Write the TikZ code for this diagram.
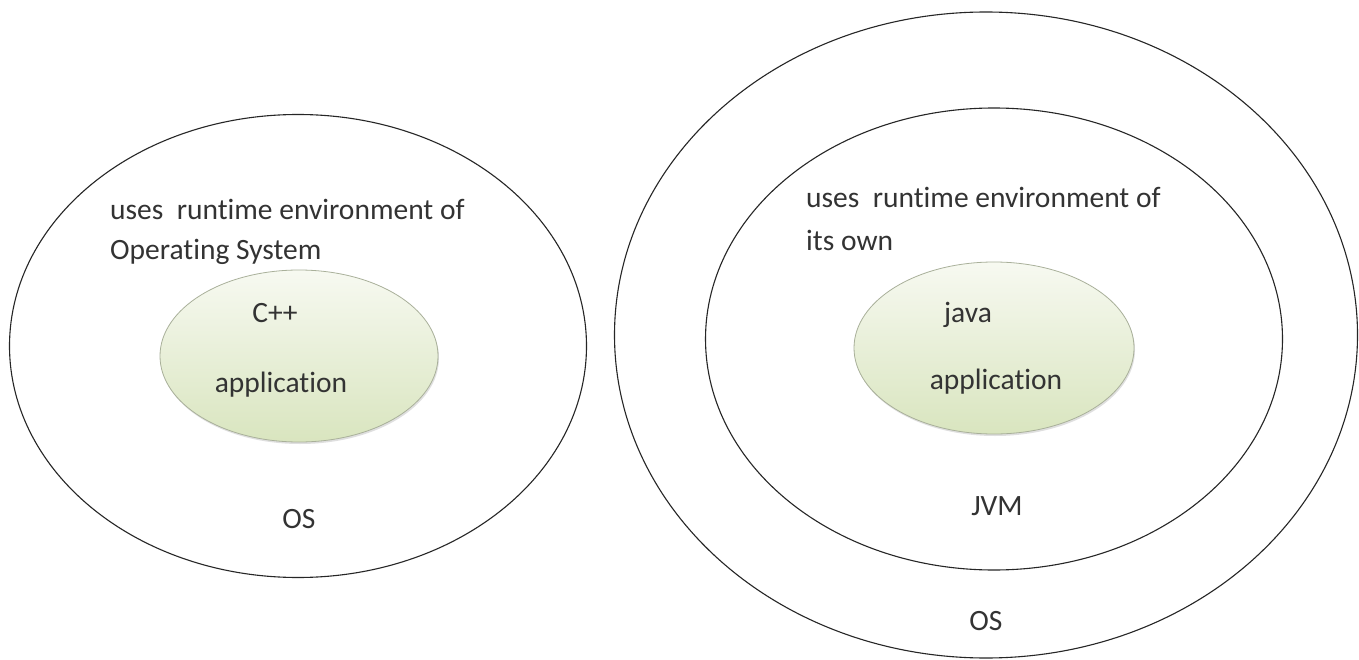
\documentclass[tikz,border=0pt]{standalone}
\usepackage{fontspec}
\setmainfont{Carlito}[Ligatures=NoCommon]
\usetikzlibrary{shapes.geometric,shadows}
\definecolor{txt}{HTML}{333333}
\definecolor{gtop}{HTML}{F7F9F1}
\definecolor{gbot}{HTML}{D9E5BF}
\definecolor{gedge}{HTML}{A9B09A}
\tikzset{
  ring/.style={ellipse, draw=black!85, line width=1.1pt, inner sep=0pt, fill=none},
  appblob/.style={ellipse, draw=gedge, line width=0.8pt, inner sep=0pt,
     top color=gtop, bottom color=gbot, drop shadow={shadow xshift=1pt, shadow yshift=-2pt, opacity=0.25}},
  lbl/.style={font=\fontsize{29.5}{34}\selectfont, text=txt, inner sep=0pt},
}
\begin{document}
\begin{tikzpicture}[x=1pt,y=-1pt]
\useasboundingbox (0,0) rectangle (1359,660);
\fill[white] (0,0) rectangle (1359,660);
% left
\node[ring, minimum width=577pt, minimum height=463pt] (osL) at (298,346) {};
\node[appblob, minimum width=278pt, minimum height=172pt] (cpp) at (299,356) {};
\node[lbl, anchor=base west] (l1) at (110,220) {uses\ \ runtime environment of};
\node[lbl, anchor=base west] (l2) at (110,259) {Operating System};
\node[lbl, anchor=base] (c1) at (275,322) {C++};
\node[lbl, anchor=base] (c2) at (281,392) {application};
\node[lbl, anchor=base] (os1) at (299,528) {OS};
% right
\node[ring, minimum width=743pt, minimum height=646pt] (osR) at (986,335) {};
\node[ring, minimum width=577pt, minimum height=462pt] (jvm) at (994,339) {};
\node[appblob, minimum width=280pt, minimum height=172pt] (jav) at (994,348) {};
\node[lbl, anchor=base west] (r1) at (806,208) {uses\ \ runtime environment of};
\node[lbl, anchor=base west] (r2) at (806,251) {its own};
\node[lbl, anchor=base] (j1) at (968,322) {java};
\node[lbl, anchor=base] (j2) at (996,389) {application};
\node[lbl, anchor=base] (jv) at (997,515) {JVM};
\node[lbl, anchor=base] (os2) at (986,630) {OS};
\end{tikzpicture}
\end{document}
